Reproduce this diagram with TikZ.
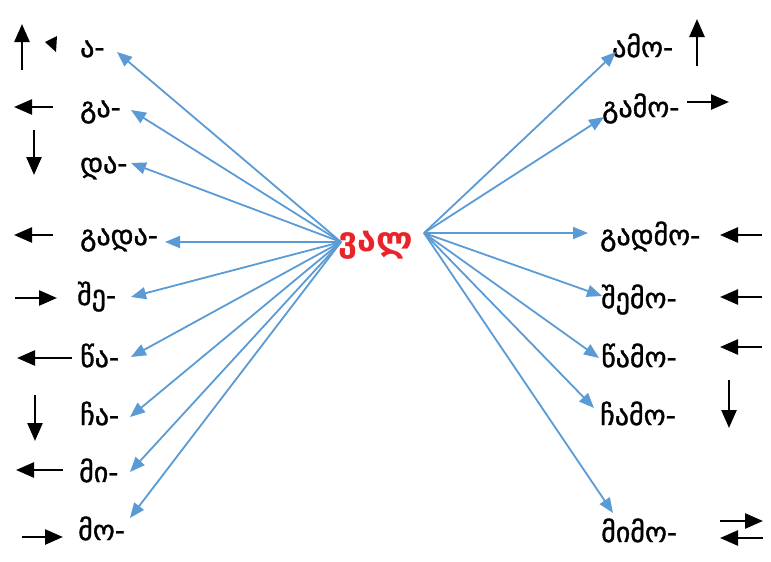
\documentclass[tikz,border=0pt]{standalone}
\usepackage{fontspec}
\setmainfont{DejaVu Sans}
\newfontfamily\labfont[FakeBold=1.2]{DejaVu Sans}
\usetikzlibrary{arrows.meta}
\definecolor{arrblue}{HTML}{5B9BD5}
\definecolor{vred}{HTML}{E8232A}
\begin{document}
\begin{tikzpicture}[x=1pt,y=-1pt,
  blk/.style={line width=2.5pt,-{Triangle[length=18pt,width=15pt]}},
  blu/.style={arrblue,line width=1.8pt,-{Triangle[length=15pt,width=12pt]}},
  lab/.style={anchor=base west,inner sep=0pt,font=\labfont\fontsize{28}{32}\selectfont}]
\useasboundingbox (0,0) rectangle (771,562);
% centre
\node[anchor=base west,inner sep=0pt,text=vred,font=\fontsize{34}{38}\selectfont\bfseries] (val) at (338,251) {ვალ};
\coordinate (cL) at (341,242);
\coordinate (cR) at (424,233);
% left labels
\node[lab] (a)    at (80,57)  {ა-};
\node[lab] (ga)   at (80,117) {გა-};
\node[lab] (da)   at (80,173) {და-};
\node[lab] (gada) at (80,245) {გადა-};
\node[lab] (she)  at (77,305) {შე-};
\node[lab] (tsa)  at (80,367) {წა-};
\node[lab] (cha)  at (80,425) {ჩა-};
\node[lab] (mi)   at (79,482) {მი-};
\node[lab] (mo)   at (78,540) {მო-};
% right labels
\node[lab] (amo)   at (612,57)  {ამო-};
\node[lab] (gamo)  at (602,117) {გამო-};
\node[lab] (gadmo) at (600,245) {გადმო-};
\node[lab] (shemo) at (601,308) {შემო-};
\node[lab] (tsamo) at (601,367) {წამო-};
\node[lab] (chamo) at (600,425) {ჩამო-};
\node[lab] (mimo)  at (601,542) {მიმო-};
% tip coordinates
\coordinate (ta)    at (117,52);
\coordinate (tga)   at (131,110);
\coordinate (tda)   at (131,163);
\coordinate (tgada) at (165,242);
\coordinate (tshe)  at (131,297);
\coordinate (ttsa)  at (131,357);
\coordinate (tcha)  at (130,417);
\coordinate (tmi)   at (130,472);
\coordinate (tmo)   at (130,518);
\coordinate (tamo)   at (616,52);
\coordinate (tgamo)  at (604,117);
\coordinate (tgadmo) at (588,233);
\coordinate (tshemo) at (602,296);
\coordinate (ttsamo) at (599,358);
\coordinate (tchamo) at (594,408);
\coordinate (tmimo)  at (613,513);
% blue connectors
\foreach \t in {ta,tga,tda,tgada,tshe,ttsa,tcha,tmi,tmo}
  \draw[blu] (cL) -- (\t);
\foreach \t in {tamo,tgamo,tgadmo,tshemo,ttsamo,tchamo,tmimo}
  \draw[blu] (cR) -- (\t);
% black direction arrows, left
\draw[blk] (22,70) -- (22,24);
\fill (45,42) -- (57,36) -- (56,52) -- cycle;
\draw[blk] (53,107) -- (14,107);
\draw[blk] (34,130) -- (34,175);
\draw[blk] (53,235) -- (14,235);
\draw[blk] (15,298) -- (57,298);
\draw[blk] (72,358) -- (17,358);
\draw[blk] (35,395) -- (35,441);
\draw[blk] (63,470) -- (16,470);
\draw[blk] (22,537) -- (63,537);
% black direction arrows, right
\draw[blk] (697,66) -- (697,19);
\draw[blk] (687,102) -- (729,102);
\draw[blk] (762,235) -- (720,235);
\draw[blk] (762,297) -- (720,297);
\draw[blk] (762,347) -- (720,347);
\draw[blk] (729,380) -- (729,428);
\draw[blk] (720,521) -- (763,521);
\draw[blk] (763,538) -- (720,538);
\end{tikzpicture}
\end{document}
